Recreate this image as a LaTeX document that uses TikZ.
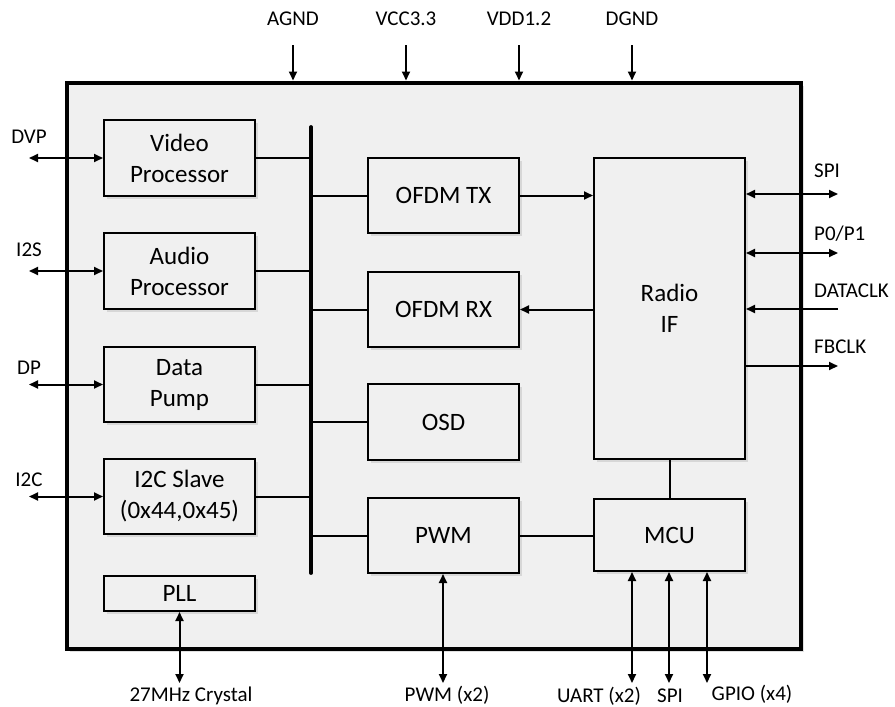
\documentclass[tikz,border=0pt]{standalone}
\usepackage{fontspec}
\setmainfont{Carlito}
\usetikzlibrary{arrows.meta,shadows}
\definecolor{chipfill}{RGB}{240,240,240}
\begin{document}
\begin{tikzpicture}[x=1pt,y=-1pt,
  chipbox/.style={draw, line width=4pt, fill=chipfill, inner sep=0pt,
    drop shadow={shadow xshift=3pt, shadow yshift=-3pt, opacity=0.12, fill=black}},
  blk/.style={draw, line width=2pt, fill=chipfill, inner sep=0pt, align=center,
    minimum width=151pt, font=\fontsize{25}{31}\selectfont,
    drop shadow={shadow xshift=2.5pt, shadow yshift=-2.5pt, opacity=0.10, fill=black}},
  lbl/.style={inner sep=0pt, font=\fontsize{21}{24}\selectfont},
  wire/.style={line width=2pt},
  arr/.style={line width=2pt, -{Triangle[length=9pt,width=8pt]}},
  dbl/.style={line width=2pt, {Triangle[length=9pt,width=8pt]}-{Triangle[length=9pt,width=8pt]}},
  bus/.style={line width=3.8pt, line cap=round}
]
\useasboundingbox (0,0) rectangle (895,707);

% chip
\node[chipbox, minimum width=734pt, minimum height=566pt] (chip) at (434,365.5) {};

% left blocks
\node[blk, minimum height=76pt] (vid) at (179.5,158) {Video\\Processor};
\node[blk, minimum height=76pt] (aud) at (179.5,271) {Audio\\Processor};
\node[blk, minimum height=75pt] (dat) at (179.5,384.5) {Data\\Pump};
\node[blk, minimum height=75pt] (i2c) at (179.5,496.5) {I2C Slave\\(0x44,0x45)};
\node[blk, minimum height=35pt] (pll) at (179.5,593.5) {PLL};

% middle blocks
\node[blk, minimum height=75pt] (tx) at (443.5,195.5) {OFDM TX};
\node[blk, minimum height=75pt] (rx) at (443.5,309.5) {OFDM RX};
\node[blk, minimum height=76pt] (osd) at (443.5,422) {OSD};
\node[blk, minimum height=75pt] (pwm) at (443.5,535.5) {PWM};

% right blocks
\node[blk, minimum height=301pt] (rif) at (669.5,308.5) {Radio\\IF};
\node[blk, minimum height=72pt] (mcu) at (669.5,535) {MCU};

% bus
\coordinate (busT) at (311,127);
\coordinate (busB) at (311,573);
\draw[bus] (busT) -- (busB);
\foreach \n in {vid,aud,dat,i2c}{\draw[wire] (\n.east) -- (\n.east -| busT);}
\foreach \n in {tx,rx,osd,pwm}{\draw[wire] (\n.west -| busT) -- (\n.west);}

% internal links
\draw[arr] (tx.east) -- (tx.east -| rif.west);
\draw[arr] (rx.east -| rif.west) -- (rx.east);
\draw[wire] (pwm.east) -- (pwm.east -| mcu.west);
\draw[wire] (rif.south) -- (mcu.north);

% top power pins
\foreach \x/\t/\n in {293/AGND/agnd, 406/VCC3.3/vcc, 519/VDD1.2/vdd, 632/DGND/dgnd}{
  \node[lbl, anchor=base] (\n L) at (\x,25) {\t};
  \coordinate (\n S) at (\x,45);
  \draw[arr] (\n S) -- (\n S |- chip.north);
}

% left pins
\coordinate (dvpE) at (29,158);
\coordinate (i2sE) at (29,271);
\coordinate (dpE) at (29,384.5);
\coordinate (i2cE) at (29,496.5);
\node[lbl, anchor=base] (dvpL) at (29,143) {DVP};
\node[lbl, anchor=base] (i2sL) at (29,256) {I2S};
\node[lbl, anchor=base] (dpL) at (29,374) {DP};
\node[lbl, anchor=base] (i2cL) at (29,486) {I2C};
\draw[dbl] (dvpE) -- (vid.west);
\draw[dbl] (i2sE) -- (aud.west);
\draw[dbl] (dpE) -- (dat.west);
\draw[dbl] (i2cE) -- (i2c.west);

% right pins
\coordinate (spiR) at (838,194);
\coordinate (p0R) at (838,253);
\coordinate (dclkR) at (838,309);
\coordinate (fbR) at (838,366);
\node[lbl, anchor=base west] (spiRL) at (814,177) {SPI};
\node[lbl, anchor=base west] (p0L) at (814,240) {P0/P1};
\node[lbl, anchor=base west] (dclkL) at (814,297) {DATACLK};
\node[lbl, anchor=base west] (fbL) at (814,353) {FBCLK};
\draw[dbl] (spiR -| rif.east) -- (spiR);
\draw[dbl] (p0R -| rif.east) -- (p0R);
\draw[arr] (dclkR) -- (dclkR -| rif.east);
\draw[arr] (fbR -| rif.east) -- (fbR);

% bottom pins
\coordinate (pllB) at (180,683);
\coordinate (pwmB) at (443,683);
\coordinate (uartB) at (632,683);
\coordinate (spiB) at (669,683);
\coordinate (gpioB) at (707,683);
\node[lbl, anchor=base] (pllL) at (191,701.5) {27MHz Crystal};
\node[lbl, anchor=base] (pwmL) at (447,701) {PWM (x2)};
\node[lbl, anchor=base] (uartL) at (599,702) {UART (x2)};
\node[lbl, anchor=base] (spiBL) at (670,702) {SPI};
\node[lbl, anchor=base] (gpioL) at (752,700) {GPIO (x4)};
\draw[dbl] (pllB -| pll.south) -- (pll.south);
\draw[dbl] (pwmB) -- (pwmB |- pwm.south);
\draw[dbl] (uartB) -- (uartB |- mcu.south);
\draw[dbl] (spiB) -- (spiB |- mcu.south);
\draw[dbl] (gpioB) -- (gpioB |- mcu.south);
\end{tikzpicture}
\end{document}
